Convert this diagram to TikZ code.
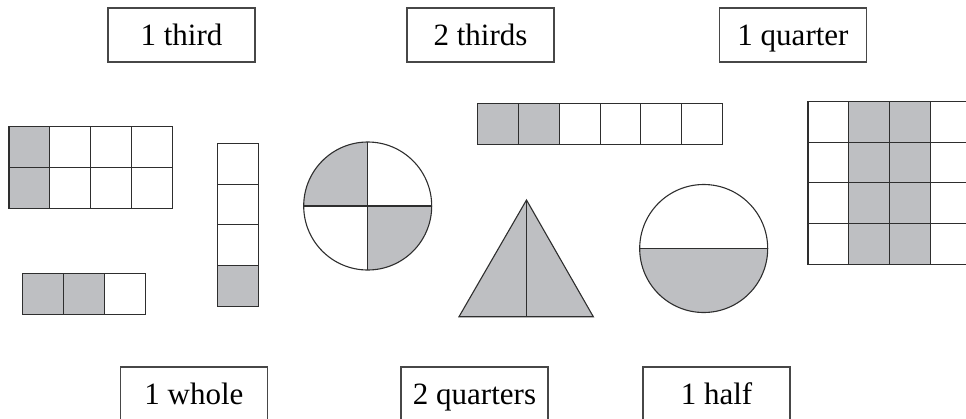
\documentclass[tikz,border=0pt]{standalone}
\usepackage{fontspec}
\setmainfont{Liberation Serif}
\usepackage{xcolor}
\usepackage{tikz}
\definecolor{partgray}{RGB}{190,191,194}

\begin{document}
\begin{tikzpicture}[
    x=1pt, y=-1pt,
    tagbox/.style={draw=black!72, line width=1.2pt, minimum width=147pt, minimum height=54pt, inner sep=0pt, text height=20pt, text depth=0pt, font=\fontsize{31}{36}\selectfont},
    part/.style={draw=black!82, line width=1.1pt},
    shaded/.style={fill=partgray},
  ]
    \useasboundingbox (0,0) rectangle (966,418);
    \clip (0,0) rectangle (966,418);
    % fraction names
    \node[tagbox] (third) at (181.5,35) {1 third};
    \node[tagbox] (twothirds) at (480.5,35) {2 thirds};
    \node[tagbox] (quarter) at (793,35) {1 quarter};
    \node[tagbox] (whole) at (194,394) {1 whole};
    \node[tagbox] (twoquarters) at (474.5,394) {2 quarters};
    \node[tagbox] (half) at (716.5,394) {1 half};
    % 2 by 4 block
    \fill[shaded] (9,126.5) rectangle ++(40.8,81.6);
    \foreach \i in {0,...,3} { \foreach \j in {0,1} { \draw[part] ({9+40.8*\i},{126.5+40.8*\j}) rectangle ++(40.8,40.8); } }
    % row of 3
    \fill[shaded] (22.7,273.3) rectangle ++(81.6,40.8);
    \foreach \i in {0,1,2} { \draw[part] ({22.7+40.8*\i},273.3) rectangle ++(40.8,40.8); }
    % column of 4
    \fill[shaded] (217.7,265.7) rectangle ++(40.8,40.8);
    \foreach \j in {0,...,3} { \draw[part] (217.7,{143.3+40.8*\j}) rectangle ++(40.8,40.8); }
    % circle in quarters
    \fill[shaded] (367.7,206) -- ++(180:64) arc[start angle=180, end angle=270, radius=64] -- cycle;
    \fill[shaded] (367.7,206) -- ++(0:64) arc[start angle=0, end angle=90, radius=64] -- cycle;
    \draw[part] (367.7,206) circle[radius=64];
    \draw[part] (303.7,206) -- (431.7,206) (367.7,142) -- (367.7,270);
    % row of 6
    \fill[shaded] (477.7,103.3) rectangle ++(81.6,40.8);
    \foreach \i in {0,...,5} { \draw[part] ({477.7+40.8*\i},103.3) rectangle ++(40.8,40.8); }
    % triangle in halves
    \draw[part, shaded] (526.5,200) -- (593.3,316.7) -- (459,316.7) -- cycle;
    \draw[part] (526.5,200) -- (526.5,316.7);
    % circle in halves
    \fill[shaded] (639.7,248.5) arc[start angle=180, end angle=0, radius=64] -- cycle;
    \draw[part] (703.7,248.5) circle[radius=64];
    \draw[part] (639.7,248.5) -- (767.7,248.5);
    % 4 by 4 block, cut at the edge
    \fill[shaded] (848.8,101.3) rectangle ++(81.6,163.2);
    \foreach \i in {0,...,3} { \foreach \j in {0,...,3} { \draw[part] ({808+40.8*\i},{101.3+40.8*\j}) rectangle ++(40.8,40.8); } }
  \end{tikzpicture}
\end{document}
